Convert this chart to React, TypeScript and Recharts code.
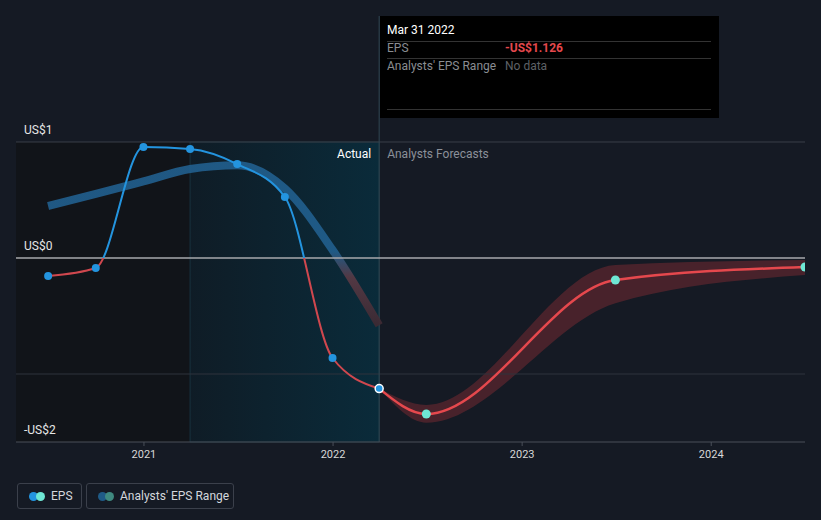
import React from 'react';
import {
  ComposedChart,
  Line,
  Area,
  XAxis,
  YAxis,
  ReferenceArea,
  ReferenceLine,
} from 'recharts';

// reported EPS (quarter ends)
const pastDates = [
  '2020-06-30', '2020-09-30', '2020-12-31', '2021-03-31',
  '2021-06-30', '2021-09-30', '2021-12-31', '2022-03-31',
];
const pastEps = [-0.155, -0.086, 0.957, 0.94, 0.81, 0.526, -0.862, -1.126];
// past analyst estimates (drawn as a thick band)
const analystEst = [0.448, 0.552, 0.66, 0.767, 0.8, 0.6, 0.07, -0.58];

// forecasts
const forecastDates = ['2022-03-31', '2022-06-30', '2023-06-30', '2024-06-30'];
const forecastEps = [-1.126, -1.345, -0.19, -0.078];
const forecastLow = [-1.126, -1.42, -0.39, -0.147];
const forecastHigh = [-1.126, -1.267, -0.06, -0.017];

const yearTicks = ['2021-01-01', '2022-01-01', '2023-01-01', '2024-01-01'];
const yTickValues = [1, 0];
const yTickLabels = ['US$1', 'US$0'];
const bottomLabel = '-US$2';

const Y_MIN = -1.5862;
const Y_MAX = 2.0862;

const toT = (d: string) => Date.parse(d + 'T00:00:00Z');
const X_MIN = toT('2020-04-29');
const X_MAX = toT('2024-06-30');
const PAST_START = toT('2021-03-31');
const NOW = toT('2022-03-31');

const BLUE = '#2394df';
const RED = '#e5484d';
const TEAL = '#6ee7d4';
const BG = '#151a24';

type Row = {
  t: number;
  eps?: number;
  estimate?: number;
  forecast?: number;
  range?: [number, number];
};

const rowMap = new Map<number, Row>();
const getRow = (d: string) => {
  const t = toT(d);
  if (!rowMap.has(t)) rowMap.set(t, { t });
  return rowMap.get(t)!;
};
pastDates.forEach((d, i) => {
  const r = getRow(d);
  r.eps = pastEps[i];
  r.estimate = analystEst[i];
});
forecastDates.forEach((d, i) => {
  const r = getRow(d);
  r.forecast = forecastEps[i];
  r.range = [forecastLow[i], forecastHigh[i]];
});
const data = Array.from(rowMap.values()).sort((a, b) => a.t - b.t);

const epsMax = Math.max(...pastEps);
const epsMin = Math.min(...pastEps);
const epsZero = epsMax / (epsMax - epsMin);
const estMax = Math.max(...analystEst);
const estMin = Math.min(...analystEst);
const estZero = estMax / (estMax - estMin);

const fmtYear = (v: number) => String(new Date(v).getUTCFullYear());

function PastDot(props: any) {
  const { cx, cy, index, value } = props;
  if (value == null || cy == null) return <g key={`pd-${index}`} />;
  const last = index === data.findIndex((r) => r.t === NOW);
  return (
    <circle
      key={`pd-${index}`}
      cx={cx}
      cy={cy}
      r={4}
      fill={BLUE}
      stroke={last ? '#ffffff' : 'none'}
      strokeWidth={1.5}
    />
  );
}

function ForecastDot(props: any) {
  const { cx, cy, index, value, payload } = props;
  if (value == null || cy == null || payload.t === NOW) return <g key={`fd-${index}`} />;
  return <circle key={`fd-${index}`} cx={cx} cy={cy} r={4.5} fill={TEAL} />;
}

function NowLabel(props: any) {
  const { viewBox } = props;
  const x = viewBox.x;
  return (
    <g fontSize={12} fontFamily="Roboto, sans-serif">
      <text x={x - 8} y={158} textAnchor="end" fill="#ffffff">
        Actual
      </text>
      <text x={x + 8} y={158} textAnchor="start" fill="#8b9099">
        Analysts Forecasts
      </text>
    </g>
  );
}

const yLabel = (value: string) => ({
  value,
  position: 'insideBottomLeft' as const,
  offset: 8,
  fill: '#e6e6e6',
  fontSize: 12,
});

function LegendBox({ left, width, c1, c2, text }: any) {
  return (
    <div
      style={{
        position: 'absolute',
        left,
        top: 483,
        width,
        height: 26,
        boxSizing: 'border-box',
        border: '1px solid #3b404b',
        borderRadius: 3,
        display: 'flex',
        alignItems: 'center',
        paddingLeft: 11,
      }}
    >
      <span style={{ position: 'relative', width: 18, height: 9 }}>
        <span style={{ position: 'absolute', left: 0, top: 0, width: 9, height: 9, borderRadius: 5, background: c1 }} />
        <span style={{ position: 'absolute', left: 7, top: 0, width: 9, height: 9, borderRadius: 5, background: c2 }} />
      </span>
      <span style={{ marginLeft: 4, fontSize: 12, color: '#d4d7dc' }}>{text}</span>
    </div>
  );
}

export default function App() {
  return (
    <div
      style={{
        position: 'fixed',
        left: 0,
        top: 0,
        width: 821,
        height: 520,
        background: BG,
        fontFamily: 'Roboto, sans-serif',
        overflow: 'hidden',
      }}
    >
      <ComposedChart
        width={821}
        height={520}
        data={data}
        margin={{ top: 16, right: 16, bottom: 48, left: 16 }}
        style={{ fontFamily: 'Roboto, sans-serif' }}
      >
        <defs>
          <linearGradient id="epsGrad" x1="0" y1="0" x2="0" y2="1">
            <stop offset={0} stopColor={BLUE} />
            <stop offset={epsZero} stopColor={BLUE} />
            <stop offset={epsZero} stopColor="#d0474e" />
            <stop offset={1} stopColor="#d0474e" />
          </linearGradient>
          <linearGradient id="estGrad" x1="0" y1="0" x2="0" y2="1">
            <stop offset={0} stopColor="#215f8e" />
            <stop offset={estZero - 0.04} stopColor="#215f8e" />
            <stop offset={estZero + 0.12} stopColor="#5a3a45" />
            <stop offset={1} stopColor="#3f2a33" />
          </linearGradient>
          <linearGradient id="tealGrad" x1="0" y1="0" x2="1" y2="0">
            <stop offset={0} stopColor="#0f1c26" />
            <stop offset={1} stopColor="#0a2b3a" />
          </linearGradient>
        </defs>

        <XAxis
          dataKey="t"
          type="number"
          domain={[X_MIN, X_MAX]}
          allowDataOverflow
          ticks={yearTicks.map(toT)}
          tickFormatter={fmtYear}
          height={30}
          stroke="#4a4f59"
          tickSize={4}
          tickMargin={4}
          tick={{ fill: '#d8d8d8', fontSize: 11 }}
        />
        <YAxis hide domain={[Y_MIN, Y_MAX]} allowDataOverflow />

        <ReferenceArea x1={X_MIN} x2={PAST_START} y1={Y_MIN} y2={1} fill="#111419" fillOpacity={1} stroke="none" />
        <ReferenceArea x1={PAST_START} x2={NOW} y1={Y_MIN} y2={1} fill="url(#tealGrad)" fillOpacity={1} stroke="#17323f" />

        <ReferenceLine y={1} stroke="#3a3f49" label={yLabel(yTickLabels[0])} />
        <ReferenceLine y={-1} stroke="#2e333c" />
        <ReferenceLine y={Y_MIN} stroke="none" label={yLabel(bottomLabel)} />
        <ReferenceLine x={NOW} stroke="#2f4652" label={<NowLabel />} />

        <Line
          dataKey="estimate"
          stroke="url(#estGrad)"
          strokeWidth={8}
          strokeOpacity={0.9}
          type="monotone"
          dot={false}
          activeDot={false}
          isAnimationActive={false}
        />

        <ReferenceLine y={yTickValues[1]} stroke="#a7a9ad" strokeWidth={1.5} label={yLabel(yTickLabels[1])} />

        <Area
          dataKey="range"
          type="monotone"
          fill="#5a252d"
          fillOpacity={0.75}
          stroke="none"
          activeDot={false}
          isAnimationActive={false}
        />
        <Line
          dataKey="forecast"
          stroke={RED}
          strokeWidth={2.5}
          type="monotone"
          dot={<ForecastDot />}
          activeDot={false}
          isAnimationActive={false}
        />
        <Line
          dataKey="eps"
          stroke="url(#epsGrad)"
          strokeWidth={2}
          type="monotone"
          dot={<PastDot />}
          activeDot={false}
          isAnimationActive={false}
        />
      </ComposedChart>

      <div
        style={{
          position: 'absolute',
          left: 380,
          top: 16,
          width: 339,
          height: 102,
          background: '#000',
          fontSize: 12,
          color: '#8a8d92',
        }}
      >
        <div style={{ position: 'absolute', left: 7, top: 7, color: '#fff' }}>Mar 31 2022</div>
        <div style={{ position: 'absolute', left: 7, right: 8, top: 25, borderTop: '1px solid #333' }} />
        <div style={{ position: 'absolute', left: 7, top: 25 }}>EPS</div>
        <div style={{ position: 'absolute', left: 125, top: 25, color: RED, fontWeight: 700 }}>-US$1.126</div>
        <div style={{ position: 'absolute', left: 7, right: 8, top: 42, borderTop: '1px solid #333' }} />
        <div style={{ position: 'absolute', left: 7, top: 43 }}>Analysts' EPS Range</div>
        <div style={{ position: 'absolute', left: 125, top: 43, color: '#5e6166' }}>No data</div>
        <div style={{ position: 'absolute', left: 7, right: 8, top: 93, borderTop: '1px solid #333' }} />
      </div>

      <LegendBox left={17} width={65} c1={BLUE} c2={TEAL} text="EPS" />
      <LegendBox left={86} width={148} c1="#1f5b87" c2="#3f8a80" text="Analysts' EPS Range" />
    </div>
  );
}
